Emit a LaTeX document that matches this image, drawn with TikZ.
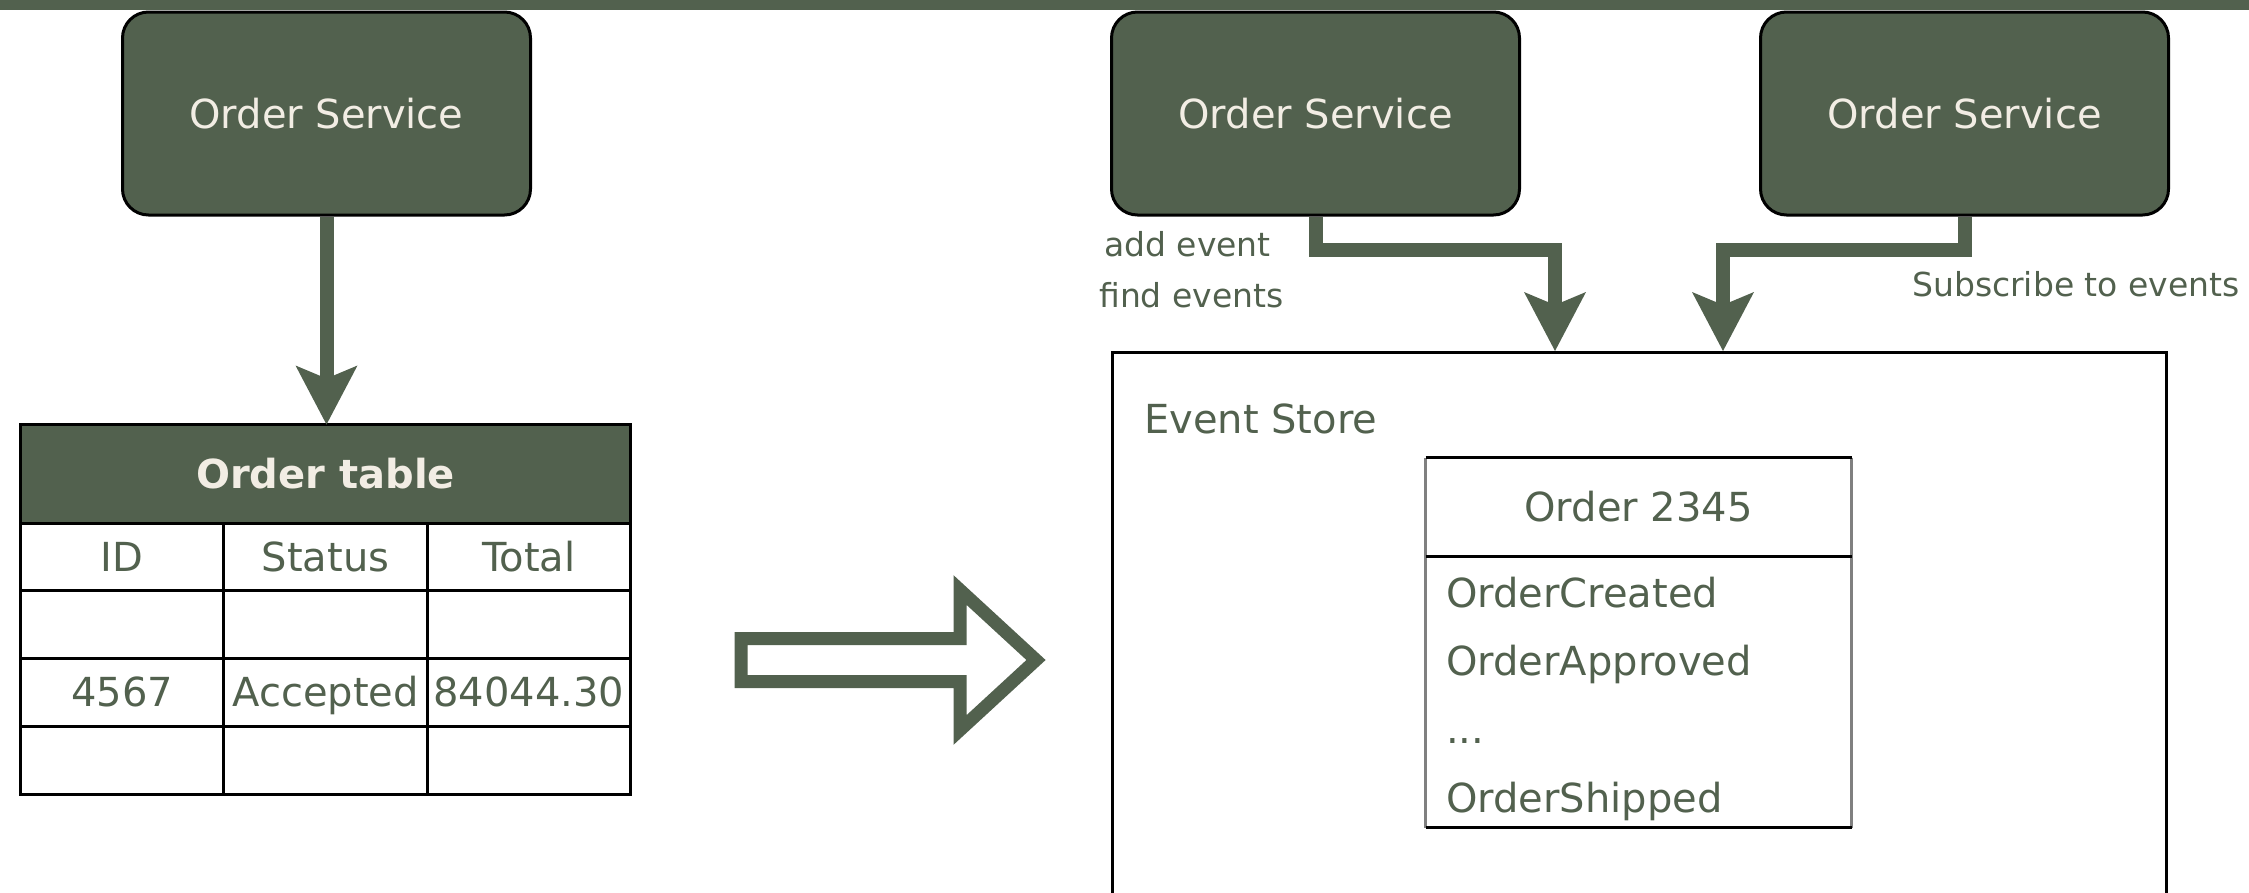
\documentclass[tikz,border=0pt]{standalone}
\usepackage{fontspec}
\setmainfont{DejaVu Sans}
\usepackage{xcolor}
\usepackage{tikz}
\usetikzlibrary{arrows.meta, positioning, matrix}
\definecolor{ddgreen}{RGB}{82, 97, 78}
\definecolor{creamtext}{RGB}{242, 237, 228}
\definecolor{sidegray}{RGB}{128, 128, 128}
\newcommand{\bigtxt}{\fontsize{40}{48}\selectfont}
\newcommand{\notetxt}{\fontsize{33}{40}\selectfont}

\begin{document}
\begin{tikzpicture}[x=1pt, y=-1pt,
    svcbox/.style={rectangle, rounded corners=26pt, fill=ddgreen, draw=black, line width=3pt,
        minimum width=408pt, minimum height=203pt, text=creamtext, font=\bigtxt},
    cell/.style={draw=black, line width=3pt, minimum width=203.33pt, minimum height=67.75pt,
        inner sep=0pt, outer sep=0pt, text=ddgreen, font=\bigtxt, text height=29pt, text depth=0pt},
    flow/.style={draw=ddgreen, line width=14pt,
        -{Stealth[length=59pt, width=62pt, inset=13pt, line width=0pt]}},
    note/.style={inner sep=0pt, text=ddgreen, font=\notetxt, anchor=west},
    evtxt/.style={inner sep=0pt, text=ddgreen, font=\bigtxt, anchor=base west}]

    \useasboundingbox (0,0) rectangle (2249,892);
    \clip (0,0) rectangle (2249,892);
    \fill[ddgreen] (0,0) rectangle (2249,10);

    % --- before: one service writing into a table
    \node[svcbox] (svcL) at (326.5,113.5) {Order Service};

    \node[fill=ddgreen, draw=black, line width=3pt, inner sep=0pt, outer sep=0pt,
          minimum width=610pt, minimum height=98.5pt, text=creamtext, font=\bigtxt\bfseries]
          (tblhead) at (325.5,473.75) {Order table};
    \matrix (tbl) [matrix of nodes, nodes in empty cells, nodes={cell},
        inner sep=0pt, outer sep=0pt, column sep=-3pt, row sep=-3pt, anchor=north west]
        at ([xshift=-1.5pt, yshift=1.5pt]tblhead.south west) {
        ID   & Status   & Total    \\
             &          &          \\
        4567 & Accepted & 84044.30 \\
             &          &          \\
    };

    \draw[flow] (svcL.south) -- (svcL.south |- tblhead.north);

    % --- after: event store
    \draw[ddgreen, line width=13pt, miter limit=10, fill=white]
        (741,638.5) -- (960,638.5) -- (960,590) -- (1036,660) -- (960,730)
        -- (960,681.5) -- (741,681.5) -- cycle;

    \node[svcbox] (svcM) at (1315.5,113.5) {Order Service};
    \node[svcbox] (svcR) at (1964.5,113.5) {Order Service};

    \node[draw=black, line width=3pt, fill=white, minimum width=1054pt, minimum height=607pt]
        (store) at (1639.5,656) {};
    \node[note, font=\bigtxt] (storelbl) at (1144,419) {Event Store};

    \coordinate (bendM) at (1555,250);
    \coordinate (bendR) at (1723,250);
    \draw[flow] (svcM.south) |- (bendM) -- (bendM |- store.north);
    \draw[flow] (svcR.south) |- (bendR) -- (bendR |- store.north);

    \node[note] (addlbl) at (1104,244) {add event};
    \node[note] (findlbl) at (1099,295) {find events};
    \node[note] (sublbl) at (1912,284) {Subscribe to events};

    % aggregate with its stream of events
    \node[inner sep=0pt, outer sep=0pt, minimum width=426pt, minimum height=98.5pt,
          text=ddgreen, font=\bigtxt] (evhead) at (1638.5,506.75) {Order 2345};
    \node[inner sep=0pt, outer sep=0pt, minimum width=426pt, minimum height=271.5pt,
          below=0pt of evhead] (evbody) {};
    \draw[sidegray, line width=3pt] (evhead.north west) -- (evbody.south west)
                                    (evhead.north east) -- (evbody.south east);
    \draw[black, line width=3pt] (evhead.north west) -- (evhead.north east)
                                 (evhead.south west) -- (evhead.south east)
                                 (evbody.south west) -- (evbody.south east);

    \node[evtxt] (ev1) at (1446,607) {OrderCreated};
    \node[evtxt] (ev2) at (1446,675) {OrderApproved};
    \node[evtxt] (ev3) at (1446,743) {...};
    \node[evtxt] (ev4) at (1446,812) {OrderShipped};
\end{tikzpicture}
\end{document}
